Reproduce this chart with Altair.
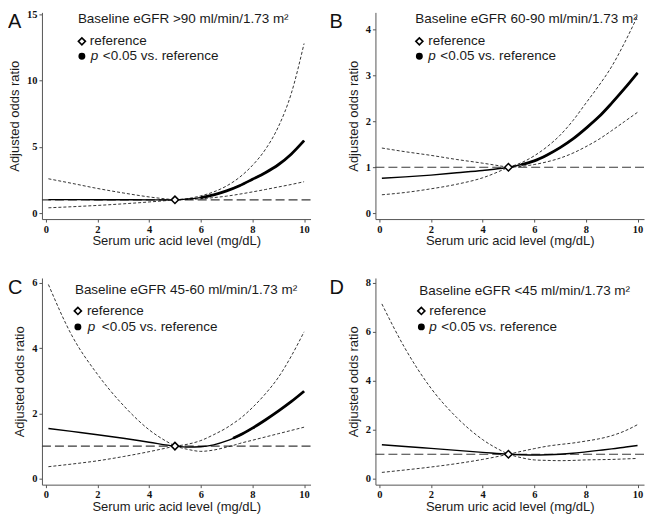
import altair as alt
import pandas as pd

# ---------------- data ----------------
SUA = [0.1, 1, 2, 3, 4, 5, 5.5, 6, 6.5, 7, 7.5, 8, 8.5, 9, 9.5, 10]
SUA_C = [0.1, 1, 2, 3, 4, 5, 5.5, 6, 6.5, 7, 7.25, 7.5, 8, 8.5, 9, 9.5, 10]

A_OR = [1.02, 1.02, 1.01, 1.01, 1.0, 1.0, 1.06, 1.17, 1.38, 1.68, 2.07, 2.55, 3.05, 3.65, 4.45, 5.47]
A_UP = [2.59, 2.25, 1.86, 1.52, 1.22, 1.0, 1.1, 1.3, 1.6, 2.05, 2.7, 3.6, 4.8, 6.5, 9.0, 12.8]
A_LO = [0.40, 0.48, 0.58, 0.70, 0.84, 1.0, 1.03, 1.08, 1.17, 1.28, 1.43, 1.6, 1.78, 1.97, 2.16, 2.37]

B_OR = [0.76, 0.79, 0.83, 0.88, 0.93, 1.0, 1.06, 1.14, 1.27, 1.43, 1.62, 1.85, 2.1, 2.4, 2.72, 3.06]
B_UP = [1.42, 1.34, 1.26, 1.17, 1.09, 1.0, 1.1, 1.25, 1.45, 1.7, 2.02, 2.4, 2.78, 3.2, 3.72, 4.3]
B_LO = [0.40, 0.45, 0.53, 0.63, 0.77, 1.0, 1.02, 1.06, 1.12, 1.2, 1.31, 1.45, 1.61, 1.8, 2.0, 2.2]

C_OR = [1.54, 1.45, 1.35, 1.24, 1.12, 1.0, 0.97, 0.98, 1.04, 1.16, 1.24, 1.33, 1.55, 1.8, 2.07, 2.36, 2.68]
C_UP = [5.95, 4.4, 3.2, 2.25, 1.5, 1.0, 1.06, 1.17, 1.35, 1.56, 1.69, 1.83, 2.18, 2.6, 3.1, 3.75, 4.5]
C_LO = [0.37, 0.45, 0.55, 0.68, 0.83, 1.0, 0.9, 0.84, 0.88, 0.97, 1.02, 1.08, 1.18, 1.28, 1.38, 1.48, 1.58]

D_OR = [1.39, 1.32, 1.24, 1.16, 1.08, 1.0, 0.98, 0.97, 0.98, 1.0, 1.04, 1.1, 1.16, 1.22, 1.29, 1.36]
D_UP = [7.14, 5.32, 3.7, 2.5, 1.6, 1.0, 1.12, 1.23, 1.33, 1.4, 1.46, 1.54, 1.63, 1.76, 1.95, 2.21]
D_LO = [0.26, 0.36, 0.48, 0.62, 0.79, 1.0, 0.86, 0.77, 0.75, 0.74, 0.75, 0.77, 0.78, 0.79, 0.81, 0.83]

LETTERS = ["A", "B", "C", "D"]
TITLES = ["Baseline eGFR >90 ml/min/1.73 m\u00b2", "Baseline eGFR 60-90 ml/min/1.73 m\u00b2",
          "Baseline eGFR 45-60 ml/min/1.73 m\u00b2", "Baseline eGFR <45 ml/min/1.73 m\u00b2"]
SIG_START = [6.0, 5.5, 7.25, None]
Y_DOMAIN = [[-0.45, 15.15], [-0.13, 4.38], [-0.18, 6.15], [-0.24, 8.2]]
Y_TICKS = [[0, 5, 10, 15], [0, 1, 2, 3, 4], [0, 2, 4, 6], [0, 2, 4, 6, 8]]
X_TICKS = [0, 2, 4, 6, 8, 10]
REF_X = [5.0]
REF_OR = [1.0]

W = 269
HEIGHTS = [207, 207, 207, 207]
SANS = "Liberation Sans"

# pixel layout of annotations, relative to each plot area
LAYOUT = [
    dict(lx=-34, tx=36, ty=7, mx=40, m1=29, m2=44, rx=48, px=49, qx=61),
    dict(lx=-46, tx=40, ty=7, mx=44, m1=29, m2=44, rx=53, px=53, qx=65),
    dict(lx=-34, tx=33, ty=12, mx=36, m1=33, m2=49, rx=45, px=46, qx=60),
    dict(lx=-46, tx=44, ty=13, mx=46, m1=33, m2=49, rx=54, px=54, qx=66),
]


def panel(i, xs, est, up, lo):
    lay = LAYOUT[i]
    xenc = alt.X("x:Q", scale=alt.Scale(domain=[-0.15, 10.25], nice=False, zero=False),
                 axis=alt.Axis(values=X_TICKS, title="Serum uric acid level (mg/dL)"))
    yenc = alt.Y("v:Q", scale=alt.Scale(domain=Y_DOMAIN[i], nice=False, zero=False),
                 axis=alt.Axis(values=Y_TICKS[i], title="Adjusted odds ratio"))

    ci_rows = []
    for name, arr in (("up", up), ("lo", lo)):
        for xv, v in zip(xs, arr):
            if xv <= 5:
                ci_rows.append(dict(x=xv, v=v, k=name + "L"))
            if xv >= 5:
                ci_rows.append(dict(x=xv, v=v, k=name + "R"))
    ci_df = pd.DataFrame(ci_rows)
    est_df = pd.DataFrame(dict(x=xs, v=est))
    ref_df = pd.DataFrame(dict(x=REF_X, v=REF_OR))
    one = pd.DataFrame(dict(k=[0]))

    layers = []
    layers.append(alt.Chart(pd.DataFrame(dict(v=REF_OR))).mark_rule(
        color="#3a3a3a", strokeWidth=1.1, strokeDash=[9, 4]).encode(y=yenc))
    layers.append(alt.Chart(ci_df).mark_line(
        color="#111111", strokeWidth=0.85, strokeDash=[3, 2], interpolate="monotone").encode(
        x=xenc, y=yenc, detail="k:N"))
    layers.append(alt.Chart(est_df).mark_line(
        color="#000000", strokeWidth=1.4, interpolate="monotone").encode(x=xenc, y=yenc))
    if SIG_START[i] is not None:
        sig_df = est_df[est_df["x"] >= SIG_START[i]]
        layers.append(alt.Chart(sig_df).mark_line(
            color="#000000", strokeWidth=2.8, interpolate="monotone").encode(x=xenc, y=yenc))
    layers.append(alt.Chart(ref_df).mark_point(
        shape="diamond", filled=True, fill="white", stroke="black", strokeWidth=1.5,
        size=55, opacity=1).encode(x=xenc, y=yenc))

    # annotations
    layers.append(alt.Chart(one).mark_text(
        align="left", baseline="top", font=SANS, fontSize=20, color="#111111").encode(
        x=alt.value(lay["lx"]), y=alt.value(0), text=alt.value(LETTERS[i])))
    layers.append(alt.Chart(one).mark_text(
        align="left", baseline="middle", font=SANS, fontSize=13.5, color="#1a1a1a").encode(
        x=alt.value(lay["tx"]), y=alt.value(lay["ty"]), text=alt.value(TITLES[i])))
    layers.append(alt.Chart(one).mark_point(
        shape="diamond", filled=True, fill="white", stroke="black", strokeWidth=1.6,
        size=50, opacity=1).encode(x=alt.value(lay["mx"]), y=alt.value(lay["m1"])))
    layers.append(alt.Chart(one).mark_point(
        shape="circle", filled=True, color="black", size=48, opacity=1).encode(
        x=alt.value(lay["mx"]), y=alt.value(lay["m2"])))
    layers.append(alt.Chart(one).mark_text(
        align="left", baseline="middle", font=SANS, fontSize=13.5, color="#1a1a1a").encode(
        x=alt.value(lay["rx"]), y=alt.value(lay["m1"]), text=alt.value("reference")))
    layers.append(alt.Chart(one).mark_text(
        align="left", baseline="middle", font=SANS, fontSize=13.5, fontStyle="italic",
        color="#1a1a1a").encode(
        x=alt.value(lay["px"]), y=alt.value(lay["m2"]), text=alt.value("p")))
    layers.append(alt.Chart(one).mark_text(
        align="left", baseline="middle", font=SANS, fontSize=13.5, color="#1a1a1a").encode(
        x=alt.value(lay["qx"]), y=alt.value(lay["m2"]), text=alt.value("<0.05 vs. reference")))

    return alt.layer(*layers).properties(width=W, height=HEIGHTS[i])


pA = panel(0, SUA, A_OR, A_UP, A_LO)
pB = panel(1, SUA, B_OR, B_UP, B_LO)
pC = panel(2, SUA_C, C_OR, C_UP, C_LO)
pD = panel(3, SUA, D_OR, D_UP, D_LO)

chart = alt.vconcat(
    alt.hconcat(pA, pB, spacing=18),
    alt.hconcat(pC, pD, spacing=18),
    spacing=29,
).properties(padding=0, background="white").configure_view(stroke=None).configure_axis(
    domainColor="#555555", tickColor="#555555", tickSize=3, grid=False,
    labelFont="Liberation Serif", labelFontWeight="bold", labelFontSize=10.5, labelColor="#111111",
    labelPadding=2, titleFont=SANS, titleFontSize=13, titleFontWeight="normal", titleColor="#1a1a1a",
).configure_axisX(titlePadding=0).configure_axisY(titlePadding=5)

chart.save("out.html", embed_options={"renderer": "svg", "actions": False})
